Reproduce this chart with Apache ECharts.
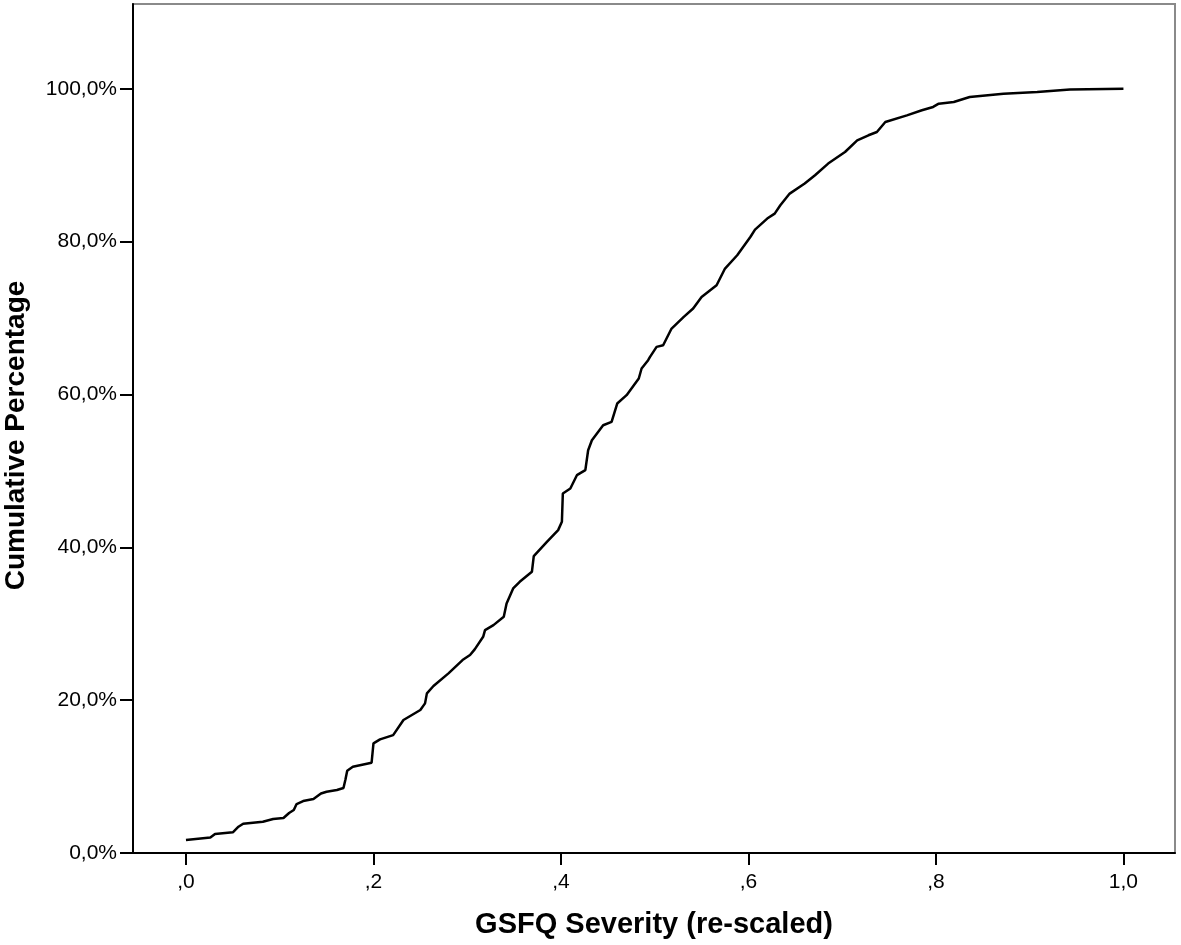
<!DOCTYPE html>
<html>
<head>
<meta charset="utf-8">
<style>
  html, body { margin: 0; padding: 0; background: #fff; }
  #chart { width: 1181px; height: 945px; }
</style>
<script src="https://cdn.jsdelivr.net/npm/echarts@6/dist/echarts.min.js"></script>
</head>
<body>
<div id="chart"></div>
<script>
// GSFQ severity (re-scaled) and cumulative percentage
var severity = [
  0.000, 0.026, 0.031, 0.050, 0.056, 0.061, 0.082, 0.093, 0.104, 0.110,
  0.115, 0.118, 0.125, 0.136, 0.144, 0.150, 0.161, 0.168, 0.170, 0.172,
  0.178, 0.198, 0.200, 0.207, 0.221, 0.232, 0.250, 0.255, 0.257, 0.264,
  0.280, 0.295, 0.303, 0.308, 0.317, 0.319, 0.328, 0.339, 0.342, 0.349,
  0.356, 0.369, 0.371, 0.385, 0.397, 0.401, 0.402, 0.410, 0.417, 0.426,
  0.429, 0.433, 0.445, 0.454, 0.460, 0.470, 0.483, 0.486, 0.493, 0.495,
  0.502, 0.509, 0.518, 0.531, 0.541, 0.550, 0.566, 0.575, 0.588, 0.602,
  0.607, 0.620, 0.628, 0.634, 0.644, 0.660, 0.671, 0.685, 0.703, 0.716,
  0.728, 0.737, 0.746, 0.769, 0.785, 0.797, 0.803, 0.819, 0.836, 0.872,
  0.908, 0.943, 1.000
]
var cumPercent = [
  1.70, 2.03, 2.49, 2.71, 3.44, 3.83, 4.09, 4.45, 4.58, 5.23,
  5.62, 6.41, 6.80, 7.06, 7.78, 8.02, 8.24, 8.50, 9.55, 10.77,
  11.29, 11.81, 14.35, 14.87, 15.43, 17.40, 18.71, 19.58, 20.89, 21.85,
  23.51, 25.25, 25.90, 26.65, 28.29, 29.17, 29.82, 30.91, 32.66, 34.62,
  35.49, 36.80, 38.85, 40.72, 42.25, 43.34, 47.05, 47.70, 49.44, 50.10,
  52.71, 54.02, 55.98, 56.42, 58.82, 59.91, 62.09, 63.40, 64.49, 64.92,
  66.23, 66.45, 68.63, 70.15, 71.25, 72.77, 74.30, 76.48, 78.22, 80.61,
  81.58, 83.02, 83.67, 84.76, 86.29, 87.60, 88.69, 90.22, 91.73, 93.26,
  93.92, 94.35, 95.66, 96.53, 97.19, 97.63, 98.06, 98.27, 98.93, 99.37,
  99.58, 99.90, 100.00
]
var xTicks = [0, 0.2, 0.4, 0.6, 0.8, 1.0]
var yTicks = [0, 20, 40, 60, 80, 100]

var chart = echarts.init(document.getElementById('chart'))
var font = 'Liberation Sans, Arial, sans-serif'

chart.setOption({
  animation: false,
  backgroundColor: '#fff',
  grid: {
    left: 133,
    right: 6,
    top: 4,
    bottom: 92,
    outerBoundsMode: 'none',
    containLabel: false,
    show: true,
    borderColor: '#8a8a8a',
    borderWidth: 2
  },
  xAxis: {
    type: 'value',
    min: -0.0565,
    max: 1.055,
    name: 'GSFQ Severity (re-scaled)',
    nameLocation: 'middle',
    nameGap: 57,
    nameTextStyle: { fontFamily: font, fontSize: 29, fontWeight: 'bold', color: '#000' },
    axisLine: { onZero: false, lineStyle: { color: '#000', width: 2 } },
    axisTick: { show: true, customValues: xTicks, length: 12, lineStyle: { color: '#000', width: 2 } },
    axisLabel: {
      customValues: xTicks,
      margin: 19,
      fontFamily: font,
      fontSize: 21,
      color: '#000',
      formatter: function (v) {
        return v.toFixed(1).replace(/^0/, '').replace('.', ',')
      }
    },
    splitLine: { show: false }
  },
  yAxis: {
    type: 'value',
    min: 0,
    max: 111.1,
    name: 'Cumulative Percentage',
    nameLocation: 'middle',
    nameGap: 103,
    nameTextStyle: {
      fontFamily: font, fontSize: 28, fontWeight: 'bold', color: '#000',
      padding: [0, 14, 0, 0]
    },
    axisLine: { show: true, onZero: false, lineStyle: { color: '#000', width: 2 } },
    axisTick: { show: true, customValues: yTicks, length: 13, lineStyle: { color: '#000', width: 2 } },
    axisLabel: {
      customValues: yTicks,
      margin: 16,
      fontFamily: font,
      fontSize: 21,
      color: '#000',
      formatter: function (v) {
        return v.toFixed(1).replace('.', ',') + '%'
      }
    },
    splitLine: { show: false }
  },
  series: [{
    type: 'line',
    data: severity.map(function (s, i) { return [s, cumPercent[i]] }),
    showSymbol: false,
    smooth: false,
    lineStyle: { color: '#000', width: 2.5 }
  }]
})
</script>
</body>
</html>
